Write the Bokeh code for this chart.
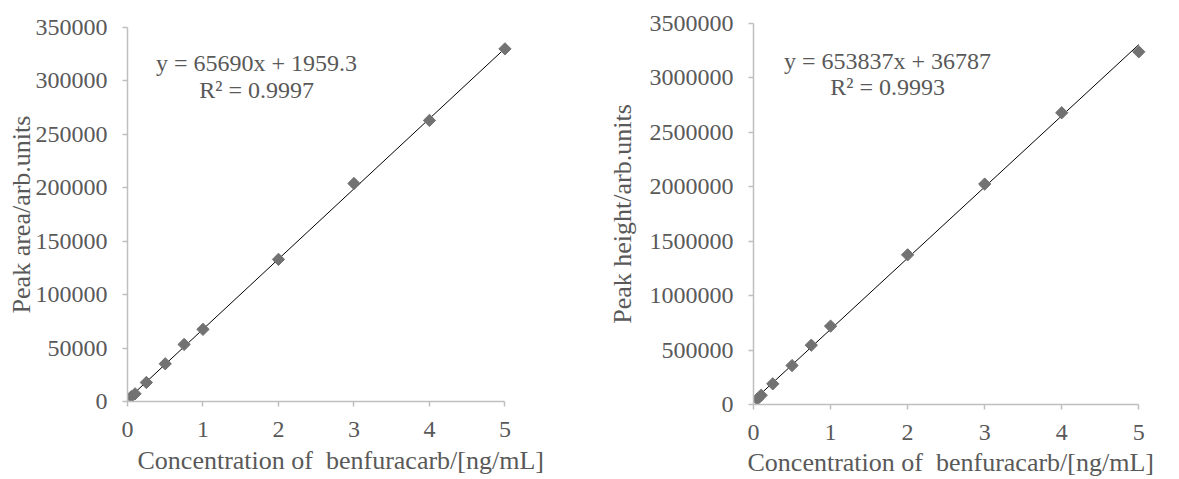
from bokeh.plotting import figure
from bokeh.layouts import row
from bokeh.models import Range1d, FixedTicker, NumeralTickFormatter, Label, Title
from bokeh.embed import file_html
from bokeh.resources import INLINE

# ---- data ----
conc = [0.05, 0.1, 0.25, 0.5, 0.75, 1, 2, 3, 4, 5]
peak_area = [4500, 7200, 17800, 35300, 53400, 67500, 133000, 204000, 263000, 330000]
peak_height = [50000, 85000, 190000, 358000, 545000, 720000, 1375000, 2025000, 2680000, 3240000]
area_slope, area_intercept, area_r2 = 65690, 1959.3, "0.9997"
height_slope, height_intercept, height_r2 = 653837, 36787, "0.9993"
x_ticks = [0, 1, 2, 3, 4, 5]
area_ticks = [0, 50000, 100000, 150000, 200000, 250000, 300000, 350000]
height_ticks = [0, 500000, 1000000, 1500000, 2000000, 2500000, 3000000, 3500000]
x_title = "Concentration of \u00a0benfuracarb/[ng/mL]"
area_title = "Peak area/arb.units"
height_title = "Peak height/arb.units"

FONT = "Liberation Serif"
TXT = "#595959"
AX = "#bfbfbf"
MARK = "#727272"


def make(ys, slope, intercept, r2, yticks, ytitle, width, height, mb_l, mb_r, mb_t, mb_b,
         ylab_standoff, eq_x, eq_y1, eq_y2, xt_offset, xt_standoff, xl_standoff):
    p = figure(width=width, height=height, output_backend="svg", toolbar_location=None,
               x_range=Range1d(0, 5.1), y_range=Range1d(0, yticks[-1]),
               min_border_left=mb_l, min_border_right=mb_r,
               min_border_top=mb_t, min_border_bottom=mb_b)
    p.outline_line_color = None
    p.grid.visible = False
    for ax in (p.xaxis[0], p.yaxis[0]):
        ax.axis_line_color = AX
        ax.axis_line_width = 1.5
        ax.major_tick_line_color = AX
        ax.major_tick_line_width = 1.5
        ax.major_tick_in = 0
        ax.major_tick_out = 5
        ax.minor_tick_line_color = None
        ax.major_label_text_font = FONT
        ax.major_label_text_font_size = "24px"
        ax.major_label_text_color = TXT
        ax.axis_label_text_font = FONT
        ax.axis_label_text_font_size = "26px"
        ax.axis_label_text_color = TXT
        ax.axis_label_text_font_style = "normal"
    p.xaxis.bounds = (x_ticks[0], x_ticks[-1])
    p.xaxis.ticker = FixedTicker(ticks=x_ticks)
    p.yaxis.ticker = FixedTicker(ticks=yticks)
    p.yaxis.formatter = NumeralTickFormatter(format="0")
    p.xaxis.major_label_standoff = xl_standoff
    p.yaxis.major_label_standoff = 15
    p.yaxis.axis_label = ytitle
    p.yaxis.axis_label_standoff = ylab_standoff

    # trendline from fit
    x0, x1 = min(conc), max(conc)
    p.line([x0, x1], [slope * x0 + intercept, slope * x1 + intercept],
           line_color="black", line_width=1)
    p.scatter(conc, ys, marker="square", size=8.7, angle=0.785398,
              fill_color=MARK, line_color=MARK)

    eq = "y = %sx + %s" % (slope, intercept)
    for txt, yy in ((eq, eq_y1), ("R\u00b2 = " + r2, eq_y2)):
        p.add_layout(Label(x=eq_x, y=yy, text=txt, text_align="center",
                           text_baseline="alphabetic", text_font=FONT,
                           text_font_size="24px", text_color=TXT))
    p.add_layout(Title(text=x_title, align="left", offset=xt_offset, standoff=xt_standoff,
                       text_font=FONT, text_font_size="26px", text_color=TXT,
                       text_font_style="normal"), "below")
    return p


left = make(peak_area, area_slope, area_intercept, area_r2, area_ticks, area_title,
            585, 479, 127, 73, 27, 78, -3,
            1.71, 316350, 291950, 10, 9, 15)
right = make(peak_height, height_slope, height_intercept, height_r2, height_ticks, height_title,
             594, 479, 168, 33, 23, 75, 10,
             1.74, 3155500, 2916600, -6, 6, 15)

# two independent roots side by side (so each plot keeps its own frame position)
TPL = """
{% block postamble %}
<style>
html, body { overflow: hidden; }
body { display: flex !important; flex-direction: row; align-items: flex-start; }
</style>
{% endblock %}
"""
try:
    html = file_html([left, right], INLINE, template=TPL)
except Exception:
    html = file_html(row(left, right), INLINE)
open("out.html", "w").write(html)
